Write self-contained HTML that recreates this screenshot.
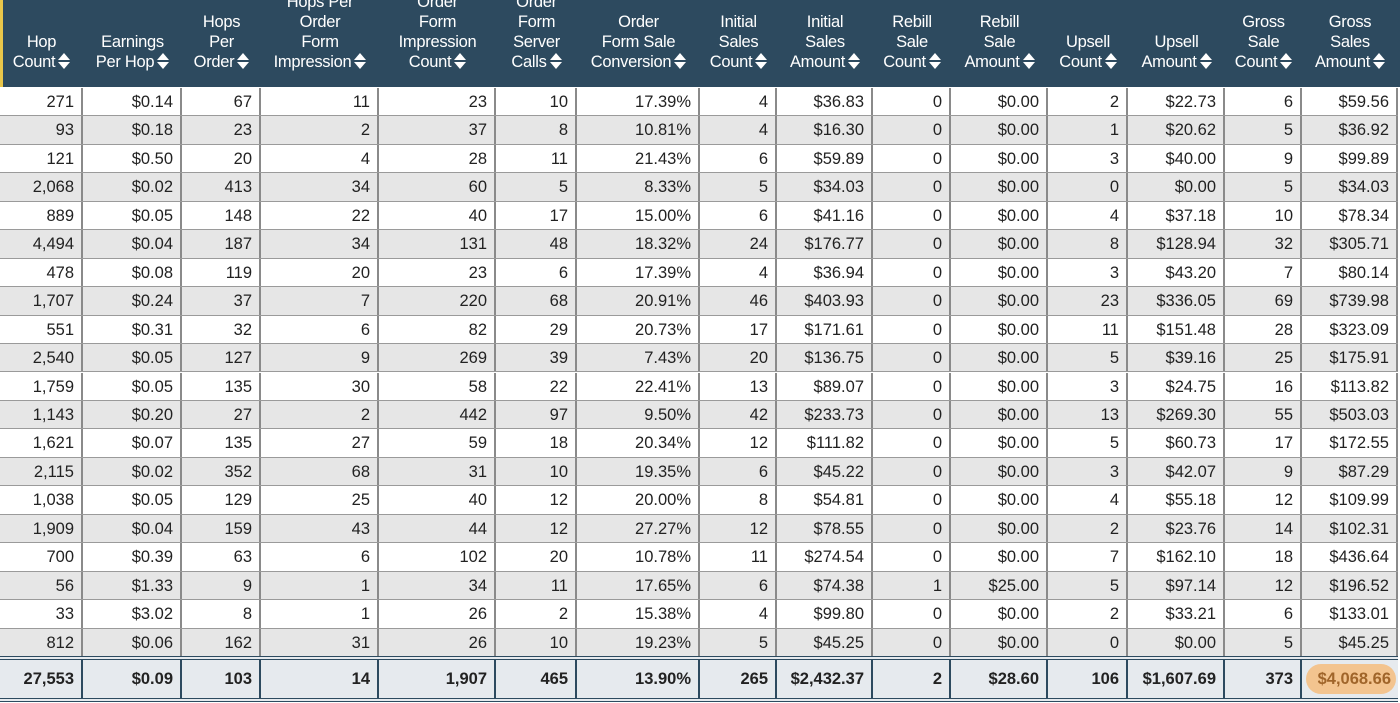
<!DOCTYPE html>
<html><head><meta charset="utf-8">
<style>
body{margin:0;width:1400px;height:703px;overflow:hidden;background:#fff;font-family:"Liberation Sans",Arial,sans-serif;}
#wrap{position:absolute;left:0;top:0;width:1400px;height:703px;}
.hdr{position:absolute;left:0;top:0;width:1400px;height:87px;background:#2d4a5f;border-left:3px solid #e8c64a;box-sizing:border-box;}
.hc{position:absolute;bottom:15px;color:#fff;font-size:16.5px;line-height:20px;text-align:center;letter-spacing:-0.3px;}
.sort{display:inline-block;width:12px;height:17px;vertical-align:-3px;margin-left:3px;position:relative}
.sort:before{content:"";position:absolute;left:0;top:0;border-left:6px solid transparent;border-right:6px solid transparent;border-bottom:7px solid #fff;}
.sort:after{content:"";position:absolute;left:0;top:9px;border-left:6px solid transparent;border-right:6px solid transparent;border-top:7px solid #fff;}
.row{position:absolute;left:0;width:1398px;height:28.45px;border-bottom:1px solid #9a9a9a;box-sizing:border-box;}
.cell{position:absolute;top:0;height:100%;font-size:16.5px;color:#222;text-align:right;line-height:28px;box-sizing:border-box;padding-right:7px;border-right:2px solid #8a8a8a;}
.foot{position:absolute;left:0;top:656px;width:1398px;height:46px;background:#e6eaee;border-top:4px double #2d4a5f;border-bottom:4px double #2d4a5f;box-sizing:border-box;}
.foot .cell{font-weight:bold;line-height:38px;border-right:2px solid #2d4a5f;color:#222}
.hl{position:absolute;left:1306px;top:4px;width:90px;height:30px;border-radius:15px;background:#f3c48f;}
</style></head><body>
<div id="wrap">
<div class="hdr" id="hdr"></div>
<div id="body"></div>
<div class="foot" id="foot"><div class="hl"></div></div>
</div>
<script>
const edges=[0,83,182,261,379,496,577,700,777,873,951,1048,1128,1225,1302,1398];
const headers=[["Hop","Count"],["Earnings","Per Hop"],["Hops","Per","Order"],["Hops Per","Order","Form","Impression"],["Order","Form","Impression","Count"],["Order","Form","Server","Calls"],["Order","Form Sale","Conversion"],["Initial","Sales","Count"],["Initial","Sales","Amount"],["Rebill","Sale","Count"],["Rebill","Sale","Amount"],["Upsell","Count"],["Upsell","Amount"],["Gross","Sale","Count"],["Gross","Sales","Amount"]];
const rows=[
["271","$0.14","67","11","23","10","17.39%","4","$36.83","0","$0.00","2","$22.73","6","$59.56"],
["93","$0.18","23","2","37","8","10.81%","4","$16.30","0","$0.00","1","$20.62","5","$36.92"],
["121","$0.50","20","4","28","11","21.43%","6","$59.89","0","$0.00","3","$40.00","9","$99.89"],
["2,068","$0.02","413","34","60","5","8.33%","5","$34.03","0","$0.00","0","$0.00","5","$34.03"],
["889","$0.05","148","22","40","17","15.00%","6","$41.16","0","$0.00","4","$37.18","10","$78.34"],
["4,494","$0.04","187","34","131","48","18.32%","24","$176.77","0","$0.00","8","$128.94","32","$305.71"],
["478","$0.08","119","20","23","6","17.39%","4","$36.94","0","$0.00","3","$43.20","7","$80.14"],
["1,707","$0.24","37","7","220","68","20.91%","46","$403.93","0","$0.00","23","$336.05","69","$739.98"],
["551","$0.31","32","6","82","29","20.73%","17","$171.61","0","$0.00","11","$151.48","28","$323.09"],
["2,540","$0.05","127","9","269","39","7.43%","20","$136.75","0","$0.00","5","$39.16","25","$175.91"],
["1,759","$0.05","135","30","58","22","22.41%","13","$89.07","0","$0.00","3","$24.75","16","$113.82"],
["1,143","$0.20","27","2","442","97","9.50%","42","$233.73","0","$0.00","13","$269.30","55","$503.03"],
["1,621","$0.07","135","27","59","18","20.34%","12","$111.82","0","$0.00","5","$60.73","17","$172.55"],
["2,115","$0.02","352","68","31","10","19.35%","6","$45.22","0","$0.00","3","$42.07","9","$87.29"],
["1,038","$0.05","129","25","40","12","20.00%","8","$54.81","0","$0.00","4","$55.18","12","$109.99"],
["1,909","$0.04","159","43","44","12","27.27%","12","$78.55","0","$0.00","2","$23.76","14","$102.31"],
["700","$0.39","63","6","102","20","10.78%","11","$274.54","0","$0.00","7","$162.10","18","$436.64"],
["56","$1.33","9","1","34","11","17.65%","6","$74.38","1","$25.00","5","$97.14","12","$196.52"],
["33","$3.02","8","1","26","2","15.38%","4","$99.80","0","$0.00","2","$33.21","6","$133.01"],
["812","$0.06","162","31","26","10","19.23%","5","$45.25","0","$0.00","0","$0.00","5","$45.25"]];
const totals=["27,553","$0.09","103","14","1,907","465","13.90%","265","$2,432.37","2","$28.60","106","$1,607.69","373","$4,068.66"];
const hdr=document.getElementById('hdr');
headers.forEach((h,i)=>{
 const d=document.createElement('div');d.className='hc';
 
 
 d.style.left=(edges[i]-3)+'px';d.style.width=(edges[i+1]-edges[i])+'px';
 d.innerHTML=h.map((t,j)=>j==h.length-1?t+'<span class="sort"></span>':t).join('<br>');
 hdr.appendChild(d);
});
const body=document.getElementById('body');
rows.forEach((r,ri)=>{
 const row=document.createElement('div');row.className='row';
 
 
 row.style.top=(88+ri*28.45)+'px';
 row.style.background=ri%2?'#e6e6e6':'#fff';
 r.forEach((v,i)=>{
  const c=document.createElement('div');c.className='cell';
  
  
  c.style.left=edges[i]+'px';c.style.width=(edges[i+1]-edges[i])+'px';
  c.textContent=v;row.appendChild(c);
 });
 body.appendChild(row);
});
const foot=document.getElementById('foot');
totals.forEach((v,i)=>{
 const c=document.createElement('div');c.className='cell';
 
 
 c.style.left=edges[i]+'px';c.style.width=(edges[i+1]-edges[i])+'px';
 if(i==14){c.style.color='#a0652a';c.style.borderRight='none';}
 c.textContent=v;foot.appendChild(c);
});
</script>
</body></html>
